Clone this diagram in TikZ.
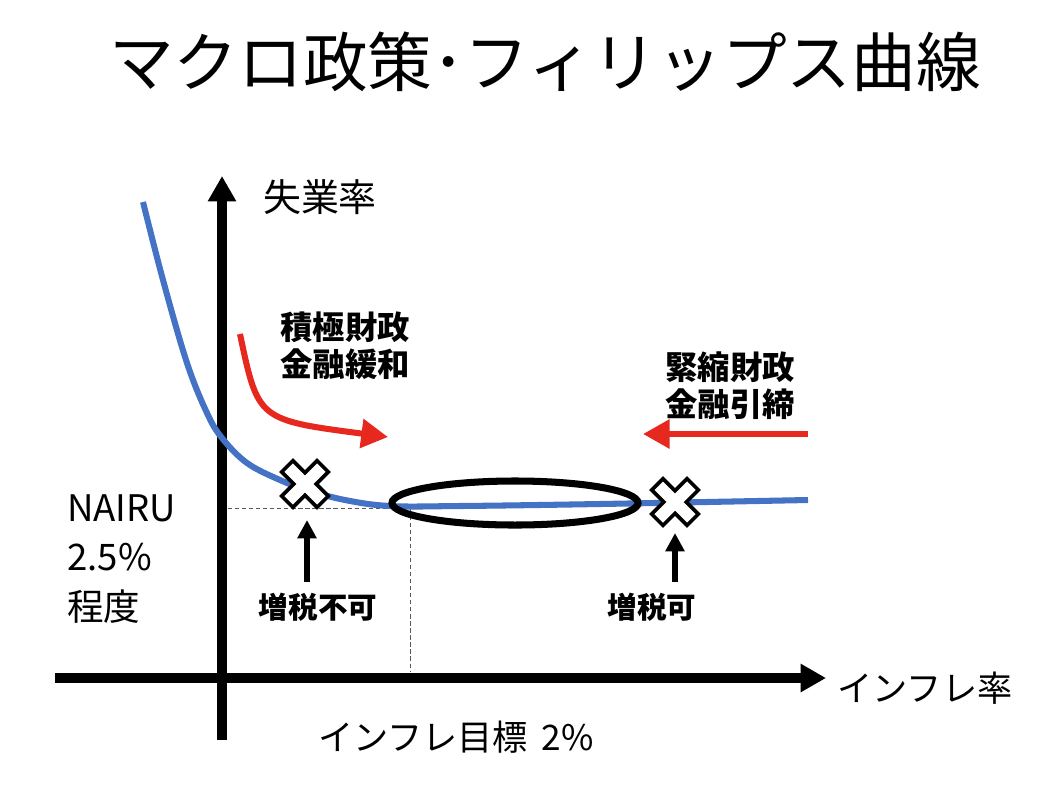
\documentclass[tikz,border=0pt]{standalone}
\usepackage{fontspec}
\setmainfont{Noto Sans CJK JP}
\usepackage{xcolor}
\usetikzlibrary{arrows.meta,positioning,calc,shapes.geometric}
\definecolor{curveblue}{RGB}{68,114,196}
\definecolor{policyred}{RGB}{230,40,30}

\begin{document}
\begin{tikzpicture}[x=0.025cm, y=-0.025cm,
  lbl/.style={font=\fontsize{25}{30}\selectfont, inner sep=0pt},
  pol/.style={font=\fontsize{23}{26.5}\selectfont\bfseries, align=center, inner sep=0pt},
  tax/.style={font=\fontsize{21}{24}\selectfont\bfseries, inner sep=0pt},
  axis/.style={line width=7pt, -{Triangle[length=18pt,width=19pt]}},
  redarr/.style={line width=4.3pt, policyred, -{Triangle[length=19pt,width=20pt]}},
  uparr/.style={line width=3.6pt, -{Triangle[length=13pt,width=13pt]}},
  guide/.style={densely dashed, gray!70!black, line width=0.6pt},
  xmark/.pic={\draw[line width=2.6pt, fill=white, rotate=45]
    (8,8) -- (8,25) -- (-8,25) -- (-8,8) -- (-25,8) -- (-25,-8) -- (-8,-8)
    -- (-8,-25) -- (8,-25) -- (8,-8) -- (25,-8) -- (25,8) -- cycle;}
]
\useasboundingbox (0,0) rectangle (1056,810);
\node[font=\fontsize{46}{52}\selectfont, inner sep=0pt] (title) at (545,62) {マクロ政策･フィリップス曲線};

% axes
\coordinate (ybot) at (222,740);
\coordinate (ytop) at (222,176);
\coordinate (xleft) at (55,678);
\coordinate (xright) at (826,678);
\coordinate (nairu) at (228,508);
\coordinate (target) at (410,508);
\coordinate (tbase) at (410,672);
\draw[guide] (nairu) -- (target) -- (tbase);
\draw[axis] (ybot) -- (ytop);
\draw[axis] (xleft) -- (xright);
\node[lbl, font=\fontsize{27}{30}\selectfont] (ylab) at (320,197) {失業率};
\node[lbl] (xlab) at (925,688) {インフレ率};
\node[lbl] (tlab) at (456,737) {インフレ目標\ \,2\%};
\node[lbl, font=\fontsize{26}{35}\selectfont, align=left, anchor=west] (nlab) at (67,559) {NAIRU\\2.5\%\\程度};

% phillips curve
\draw[curveblue, line width=4.3pt] plot[smooth, tension=0.6] coordinates
  {(143,202) (163,280) (187,363) (207,413) (222,438) (247,463) (280,480) (307,490) (345,500) (390,506) (460,506) (600,504) (808,500)};

\node[draw, ellipse, line width=5pt, minimum width=6.15cm, minimum height=1.1cm] (band) at (515,503) {};

% crosses
\pic at (305,484) {xmark};
\pic at (675,502) {xmark};
\coordinate (xl) at (307,520);
\coordinate (xr) at (675,533);
\node[tax] (nogo) at (318,607) {増税不可};
\node[tax] (go) at (652,607) {増税可};
\draw[uparr] ($(nogo.north)+(-11,-11)$) -- (xl);
\draw[uparr] ($(go.north)+(23,-11)$) -- (xr);

% policy arrows
\node[pol] (ease) at (345,346) {積極財政\\金融緩和};
\node[pol] (tight) at (730,386) {緊縮財政\\金融引締};
\coordinate (es) at (240,334);
\coordinate (ee) at (388,437);
\coordinate (ts) at (808,434);
\coordinate (te) at (643,434);
\draw[redarr] (es) .. controls (258,420) .. (ee);
\draw[redarr] (ts) -- (te);
\end{tikzpicture}
\end{document}
